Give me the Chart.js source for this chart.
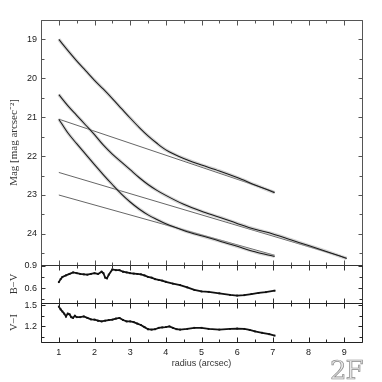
<!DOCTYPE html>
<html>
<head>
<meta charset="utf-8">
<script src="https://cdn.jsdelivr.net/npm/chart.js@4"></script>
<style>
html,body{margin:0;padding:0;background:#fff;}
#wrap{position:relative;width:382px;height:382px;overflow:hidden;}
canvas{position:absolute;left:0;top:0;}
#tag{position:absolute;left:330px;top:355px;font-family:"DejaVu Serif",serif;font-size:26px;color:#e8e8e8;-webkit-text-stroke:0.7px #8a8a8a;letter-spacing:-1px;}
</style>
</head>
<body>
<div id="wrap">
<canvas id="c1" width="382" height="382"></canvas>
<canvas id="c2" width="382" height="382"></canvas>
<canvas id="c3" width="382" height="382"></canvas>
<div id="tag">2F</div>
</div>
<script>
// ---------- data ----------
const radiusA = [1.0,1.25,1.5,1.75,2.0,2.25,2.5,2.75,3.0,3.25,3.5,3.75,4.0,4.25,4.5,4.75,5.0,5.5,6.0,6.5,7.05];
const magA    = [19.0,19.28,19.55,19.8,20.05,20.28,20.52,20.77,21.02,21.26,21.48,21.67,21.84,21.96,22.06,22.15,22.23,22.38,22.55,22.74,22.94];

const radiusB = [1.0,1.25,1.5,1.75,2.0,2.25,2.5,2.75,3.0,3.25,3.5,3.75,4.0,4.5,5.0,5.5,6.0,6.5,7.0,7.5,8.0,8.5,9.07];
const magB    = [20.42,20.7,20.95,21.2,21.45,21.72,21.95,22.15,22.35,22.55,22.73,22.88,23.01,23.24,23.42,23.57,23.73,23.88,24.0,24.15,24.3,24.45,24.63];

const radiusC = [1.0,1.25,1.5,1.75,2.0,2.25,2.5,2.75,3.0,3.25,3.5,3.75,4.0,4.5,5.0,5.5,6.0,6.5,7.05];
const magC    = [21.05,21.4,21.68,21.95,22.22,22.48,22.73,22.97,23.18,23.36,23.51,23.63,23.74,23.91,24.05,24.18,24.32,24.46,24.58];

// straight disk fits (end points)
const fit1 = [[1.0,21.05],[7.05,22.92]];
const fit2 = [[1.0,22.42],[9.07,24.62]];
const fit3 = [[1.0,23.0],[7.05,24.55]];

const radiusBV = [1.0,1.05,1.1,1.2,1.3,1.4,1.5,1.6,1.7,1.8,1.9,2.0,2.1,2.2,2.25,2.3,2.35,2.4,2.5,2.6,2.7,2.8,2.9,3.0,3.1,3.2,3.3,3.4,3.5,3.6,3.7,3.8,3.9,4.0,4.2,4.4,4.6,4.8,5.0,5.2,5.5,5.8,6.0,6.2,6.4,6.6,6.8,7.05];
const colorBV  = [0.68,0.72,0.75,0.77,0.79,0.81,0.80,0.79,0.785,0.78,0.79,0.80,0.79,0.82,0.80,0.74,0.73,0.78,0.85,0.84,0.84,0.82,0.81,0.80,0.795,0.79,0.785,0.77,0.75,0.74,0.72,0.71,0.70,0.685,0.66,0.64,0.61,0.575,0.555,0.55,0.53,0.51,0.50,0.505,0.52,0.535,0.545,0.565];

const radiusVI = [1.0,1.05,1.1,1.15,1.2,1.25,1.3,1.35,1.4,1.45,1.5,1.6,1.7,1.8,1.9,2.0,2.1,2.2,2.3,2.4,2.5,2.6,2.7,2.8,2.9,3.0,3.1,3.2,3.3,3.4,3.5,3.6,3.7,3.8,3.9,4.0,4.1,4.2,4.3,4.4,4.6,4.8,5.0,5.2,5.5,5.8,6.0,6.2,6.35,6.5,6.7,6.9,7.05];
const colorVI  = [1.48,1.44,1.41,1.38,1.34,1.38,1.37,1.33,1.32,1.35,1.33,1.33,1.34,1.32,1.30,1.295,1.28,1.27,1.28,1.29,1.295,1.31,1.32,1.29,1.27,1.27,1.26,1.24,1.22,1.19,1.16,1.155,1.16,1.18,1.185,1.19,1.20,1.18,1.16,1.155,1.165,1.18,1.18,1.165,1.155,1.165,1.17,1.165,1.15,1.13,1.11,1.09,1.07];

// tick positions / labels
const xTickLabels = [1,2,3,4,5,6,7,8,9];
const xMinorTicks = [0.5,1.5,2.5,3.5,4.5,5.5,6.5,7.5,8.5,9.5];
const magTickLabels = [19,20,21,22,23,24];
const magMinorTicks = [18.5,19.5,20.5,21.5,22.5,23.5,24.5];
const bvTickLabels = [0.6,0.9];
const bvMinorTicks = [0.45,0.75];
const viTickLabels = [1.2,1.5];
const viMinorTicks = [1.05,1.35];

// ---------- helpers ----------
const pts = (xs, ys) => xs.map((x,i)=>({x:x, y:ys[i]}));
const seg = (p) => p.map(q=>({x:q[0], y:q[1]}));
const FONT = {family:'"Liberation Sans", Arial, sans-serif', size:9};
const LEFT_W = 41, RIGHT_PAD = 20;

const frameTicks = {
  id:'frameTicks',
  afterDraw(chart, args, o){
    const ctx = chart.ctx, a = chart.chartArea;
    const xs = chart.scales.x, ys = chart.scales.y;
    ctx.save();
    ctx.strokeStyle = o.color || '#444';
    ctx.lineWidth = 1;
    ctx.beginPath();
    const L = Math.round(a.left)+0.5, R = Math.round(a.right)+0.5, T = Math.round(a.top)+0.5, B = Math.round(a.bottom)+0.5;
    ctx.moveTo(L,T); ctx.lineTo(R,T); ctx.lineTo(R,B); ctx.lineTo(L,B); ctx.closePath();
    const tx = (v,len)=>{ const p=Math.round(xs.getPixelForValue(v))+0.5; ctx.moveTo(p,B); ctx.lineTo(p,B-len); ctx.moveTo(p,T); ctx.lineTo(p,T+len); };
    const ty = (v,len)=>{ const p=Math.round(ys.getPixelForValue(v))+0.5; ctx.moveTo(L,p); ctx.lineTo(L+len,p); ctx.moveTo(R,p); ctx.lineTo(R-len,p); };
    xTickLabels.forEach(v=>tx(v,5));
    xMinorTicks.forEach(v=>tx(v,3));
    (o.yMajor||[]).forEach(v=>ty(v,4));
    (o.yMinor||[]).forEach(v=>ty(v,3));
    ctx.stroke();
    ctx.restore();
  }
};

function yAxis(min, max, labels, reverse, title, fmt, tsize){
  return {
    type:'linear', min:min, max:max, reverse:reverse,
    grid:{display:false, drawTicks:false}, border:{display:false},
    afterFit(s){ s.width = LEFT_W; },
    afterBuildTicks(s){ s.ticks = labels.map(v=>({value:v})); },
    ticks:{font:FONT, color:'#1a1a1a', padding:4, callback:fmt},
    title:{display:true, text:title, font:{family:'"Liberation Serif", serif', size:tsize}, color:'#333', padding:{top:14 - tsize*0.6,bottom:0}}
  };
}
function xHidden(){
  return {type:'linear', min:0.5, max:9.5, display:false};
}

const common = {
  responsive:false, animation:false,
  plugins:{legend:{display:false}, tooltip:{enabled:false}},
  elements:{point:{radius:0}}
};

// dataset 0 is drawn on top in Chart.js, so the dark core comes first
function curveSets(xs, ys){
  return [
    {data:pts(xs,ys), borderColor:'#1a1a1a', borderWidth:1.05, cubicInterpolationMode:'monotone', order:0},
    {data:pts(xs,ys), borderColor:'rgba(170,170,170,0.5)', borderWidth:3.4, cubicInterpolationMode:'monotone', order:1}
  ];
}
function fitSet(p){
  return {data:seg(p), borderColor:'#555', borderWidth:0.9, order:2};
}

// ---------- top panel: surface brightness ----------
new Chart(document.getElementById('c1'), {
  type:'line',
  data:{datasets:[
    ...curveSets(radiusA, magA), ...curveSets(radiusB, magB), ...curveSets(radiusC, magC),
    fitSet(fit1), fitSet(fit2), fitSet(fit3)
  ]},
  options:Object.assign({}, common, {
    layout:{padding:{top:20, bottom:382-265, left:0, right:RIGHT_PAD}},
    scales:{
      x:xHidden(),
      y:yAxis(18.5, 24.8, magTickLabels, true, 'Mag [mag arcsec\u207B\u00B2]', v=>String(v), 11)
    },
    plugins:Object.assign({}, common.plugins, {frameTicks:{yMajor:magTickLabels, yMinor:magMinorTicks, color:'#555'}})
  }),
  plugins:[frameTicks]
});

// ---------- middle panel: B-V ----------
new Chart(document.getElementById('c2'), {
  type:'line',
  data:{datasets:[
    {data:pts(radiusBV,colorBV), borderColor:'#111', borderWidth:1.8, pointRadius:1.3, pointStyle:'rect', pointBackgroundColor:'#111', pointBorderWidth:0}
  ]},
  options:Object.assign({}, common, {
    layout:{padding:{top:265, bottom:382-303, left:0, right:RIGHT_PAD}},
    scales:{
      x:xHidden(),
      y:yAxis(0.4, 0.91, bvTickLabels, false, 'B\u2212V', v=>v.toFixed(1), 10.5)
    },
    plugins:Object.assign({}, common.plugins, {frameTicks:{yMajor:bvTickLabels, yMinor:bvMinorTicks, color:'#333'}})
  }),
  plugins:[frameTicks]
});

// ---------- bottom panel: V-I ----------
new Chart(document.getElementById('c3'), {
  type:'line',
  data:{datasets:[
    {data:pts(radiusVI,colorVI), borderColor:'#111', borderWidth:1.8, pointRadius:1.3, pointStyle:'rect', pointBackgroundColor:'#111', pointBorderWidth:0}
  ]},
  options:Object.assign({}, common, {
    layout:{padding:{top:303, bottom:12, left:0, right:RIGHT_PAD}},
    scales:{
      x:{
        type:'linear', min:0.5, max:9.5,
        grid:{display:false, drawTicks:false}, border:{display:false},
        afterFit(s){ s.height = 28; },
        afterBuildTicks(s){ s.ticks = xTickLabels.map(v=>({value:v})); },
        ticks:{font:FONT, color:'#1a1a1a', padding:5, maxRotation:0, callback:v=>String(v)},
        title:{display:true, text:'radius (arcsec)', font:{family:FONT.family, size:9}, color:'#333', padding:{top:0,bottom:1}}
      },
      y:yAxis(0.98, 1.53, viTickLabels, false, 'V\u2212I', v=>v.toFixed(1), 10.5)
    },
    plugins:Object.assign({}, common.plugins, {frameTicks:{yMajor:viTickLabels, yMinor:viMinorTicks, color:'#222'}})
  }),
  plugins:[frameTicks]
});
</script>
</body>
</html>
